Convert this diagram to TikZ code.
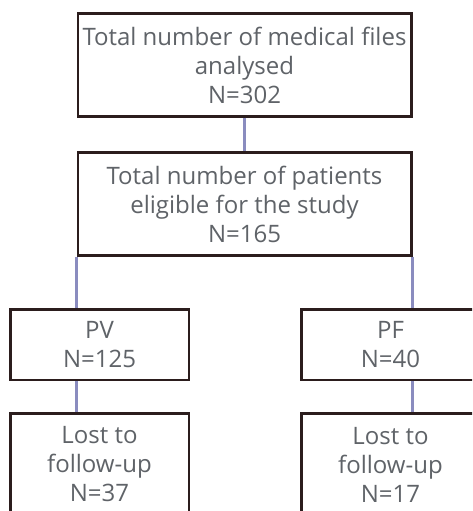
\documentclass[tikz,border=0pt]{standalone}
\usepackage{fontspec}
\setmainfont{Open Sans}

\definecolor{boxline}{HTML}{2B1D1D}
\definecolor{txtgray}{HTML}{5F6368}
\definecolor{linkblue}{HTML}{8A8CBF}

\begin{document}
\begin{tikzpicture}[
    x=0.75pt, y=-0.75pt,
    font=\fontsize{18}{21.75}\selectfont,
    % box styles
    box/.style={rectangle, draw=boxline, line width=2pt, fill=white, text=txtgray, align=center, inner sep=0pt},
    wide/.style={box, minimum width=250pt, minimum height=77pt},
    arm/.style={box, minimum width=134pt, minimum height=53pt},
    lost/.style={box, minimum width=134pt, minimum height=77pt},
    link/.style={draw=linkblue, line width=1.6pt}
]

    % ================= FRAME (right and bottom boxes run off the page) =================
    \clip (0,0) rectangle (472,511);

    % ================= TOP =================
    \node[wide] (files) at (244.5, 65) {Total number of medical files\\analysed\\N=302};
    \node[wide] (elig) at (244.5, 204) {Total number of patients\\eligible for the study\\N=165};

    % ================= GROUPS =================
    \node[arm] (pv) at (99.5, 344.5) {PV\\N=125};
    \node[arm] (pf) at (390.5, 344.5) {PF\\N=40};

    % ================= LOST TO FOLLOW-UP =================
    \node[lost] (lostpv) at (99.5, 464.5) {Lost to\\follow-up\\N=37};
    \node[lost] (lostpf) at (390.5, 464.5) {Lost to\\follow-up\\N=17};

    % ================= LINKS =================
    \draw[link] (files.south) -- (elig.north);
    \draw[link] (elig.south west) -- (elig.south west |- pv.north);
    \draw[link] (elig.south east) -- (elig.south east |- pf.north);
    \draw[link] (elig.south west |- pv.south) -- (elig.south west |- lostpv.north);
    \draw[link] (elig.south east |- pf.south) -- (elig.south east |- lostpf.north);

\end{tikzpicture}
\end{document}
